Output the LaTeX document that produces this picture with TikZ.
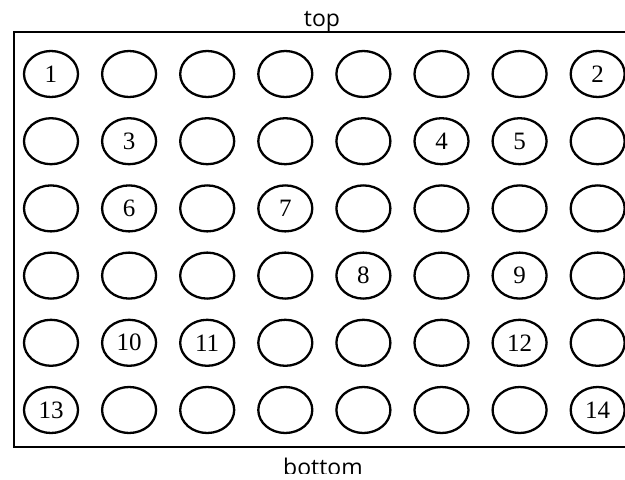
\documentclass[tikz,border=0pt]{standalone}
\usepackage{fontspec}
\setmainfont{Liberation Serif}
\newfontfamily\sidefont{Open Sans}
\usetikzlibrary{shapes.geometric}
\tikzset{
  well/.style={ellipse, draw, line width=2.3pt, minimum width=54pt, minimum height=46pt, inner sep=0pt},
  num/.style={inner sep=0pt, font=\fontsize{25}{25}\selectfont},
  side/.style={inner sep=0pt, anchor=base, font=\sidefont\fontsize{23}{23}\selectfont},
  frame/.style={draw, line width=1.8pt}
}
\begin{document}
\begin{tikzpicture}[x=1pt,y=-1pt]
\useasboundingbox (0,0) rectangle (625,480);
\clip (0,0) rectangle (625,480);
\draw[frame] (14,32) rectangle (660,447);
\foreach \r [evaluate=\r as \y using 74+67.2*(\r-1)] in {1,...,6}{
  \foreach \c [evaluate=\c as \x using 51+78.1*(\c-1)] in {1,...,8}{
    \node[well] (e-\r-\c) at (\x,\y) {};
  }
}
\node[num] at (e-1-1) {1};
\node[num] at (e-1-8) {2};
\node[num] at (e-2-2) {3};
\node[num] at (e-2-6) {4};
\node[num] at (e-2-7) {5};
\node[num] at (e-3-2) {6};
\node[num] at (e-3-4) {7};
\node[num] at (e-4-5) {8};
\node[num] at (e-4-7) {9};
\node[num] at (e-5-2) {10};
\node[num] at (e-5-3) {11};
\node[num] at (e-5-7) {12};
\node[num] at (e-6-1) {13};
\node[num] at (e-6-8) {14};
\node[side] (toplabel) at (322,26) {top};
\node[side] (bottomlabel) at (323,475) {bottom};
\fill[white] (0,474) rectangle (625,481);
\end{tikzpicture}
\end{document}
